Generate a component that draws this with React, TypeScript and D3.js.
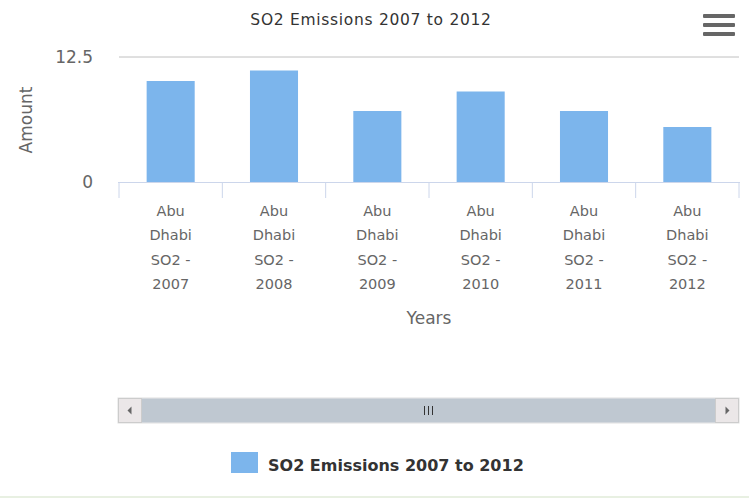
import React from 'react';
import * as d3 from 'd3';

const categories = [
  ['Abu', 'Dhabi', 'SO2 -', '2007'],
  ['Abu', 'Dhabi', 'SO2 -', '2008'],
  ['Abu', 'Dhabi', 'SO2 -', '2009'],
  ['Abu', 'Dhabi', 'SO2 -', '2010'],
  ['Abu', 'Dhabi', 'SO2 -', '2011'],
  ['Abu', 'Dhabi', 'SO2 -', '2012'],
];
const values = [10.1, 11.15, 7.1, 9.05, 7.1, 5.5];
const yTicks = [0, 12.5];
const seriesName = 'SO2 Emissions 2007 to 2012';
const chartTitle = 'SO2 Emissions 2007 to 2012';

const W = 749;
const H = 498;
const font = '"DejaVu Sans", Verdana, sans-serif';

export default function App() {
  const left = 119;
  const right = 739;
  const top = 57;
  const bottom = 182;

  const x = d3
    .scaleBand<number>()
    .domain(d3.range(categories.length))
    .range([left, right]);
  const y = d3.scaleLinear().domain([0, 12.5]).range([bottom, top]);
  const barW = x.bandwidth() * 0.465;

  // scrollbar geometry
  const sbTop = 398;
  const sbH = 25;
  const sbLeft = 118;
  const sbRight = 739;
  const btnW = 23;

  return (
    <svg
      width={W}
      height={H}
      style={{ position: 'fixed', left: 0, top: 0, background: '#fff' }}
      fontFamily={font}
    >
      <rect x={0} y={0} width={W} height={H} fill="#fff" />

      {/* title */}
      <text x={371} y={25} textAnchor="middle" fontSize={15.5} letterSpacing={0.7} fill="#333">
        {chartTitle}
      </text>

      {/* menu icon */}
      {[16, 25, 34].map((cy) => (
        <rect key={cy} x={703} y={cy - 2} width={32} height={4} rx={1} fill="#666" />
      ))}

      {/* grid line */}
      {yTicks
        .filter((t) => t !== 0)
        .map((t) => (
          <line key={t} x1={left} x2={right} y1={y(t)} y2={y(t)} stroke="#c0c0c0" strokeWidth={1} />
        ))}

      {/* y tick labels */}
      {yTicks.map((t) => (
        <text key={t} x={93} y={y(t) + 6} textAnchor="end" fontSize={17} fill="#666">
          {t}
        </text>
      ))}

      {/* y axis title */}
      <text
        transform={`translate(32,120) rotate(-90)`}
        textAnchor="middle"
        fontSize={17}
        fill="#666"
      >
        Amount
      </text>

      {/* bars */}
      {values.map((v, i) => (
        <rect
          key={i}
          x={(x(i) as number) + (x.bandwidth() - barW) / 2}
          y={y(v)}
          width={barW}
          height={y(0) - y(v)}
          fill="#7cb5ec"
        />
      ))}

      {/* x axis */}
      <line x1={left - 1} x2={right + 1} y1={bottom + 0.5} y2={bottom + 0.5} stroke="#ccd6eb" />
      {d3.range(categories.length + 1).map((i) => {
        const tx = i < categories.length ? (x(i) as number) : right;
        return (
          <line key={i} x1={tx} x2={tx} y1={bottom} y2={bottom + 16} stroke="#ccd6eb" />
        );
      })}
      {categories.map((lines, i) => (
        <text
          key={i}
          x={(x(i) as number) + x.bandwidth() / 2}
          textAnchor="middle"
          fontSize={14.5}
          fill="#666"
        >
          {lines.map((ln, j) => (
            <tspan key={j} x={(x(i) as number) + x.bandwidth() / 2} y={216 + j * 24.3}>
              {ln}
            </tspan>
          ))}
        </text>
      ))}

      {/* x axis title */}
      <text x={429} y={324} textAnchor="middle" fontSize={17} fill="#666">
        Years
      </text>

      {/* scrollbar */}
      <rect x={sbLeft} y={sbTop} width={sbRight - sbLeft} height={sbH} fill="#f2f2f2" stroke="#e0e0e0" />
      <rect x={sbLeft + btnW} y={sbTop + 0.5} width={sbRight - sbLeft - 2 * btnW} height={sbH - 1} fill="#bfc8d1" />
      <rect x={sbLeft + 0.5} y={sbTop + 0.5} width={btnW} height={sbH - 1} fill="#ebe7e8" stroke="#cccccc" />
      <rect x={sbRight - btnW - 0.5} y={sbTop + 0.5} width={btnW} height={sbH - 1} fill="#ebe7e8" stroke="#cccccc" />
      <path
        d={`M${sbLeft + btnW / 2 + 2},${sbTop + sbH / 2 - 4} L${sbLeft + btnW / 2 - 2},${sbTop + sbH / 2} L${sbLeft + btnW / 2 + 2},${sbTop + sbH / 2 + 4} Z`}
        fill="#666"
      />
      <path
        d={`M${sbRight - btnW / 2 - 2},${sbTop + sbH / 2 - 4} L${sbRight - btnW / 2 + 2},${sbTop + sbH / 2} L${sbRight - btnW / 2 - 2},${sbTop + sbH / 2 + 4} Z`}
        fill="#666"
      />
      {[-4, 0, 4].map((dx) => (
        <line
          key={dx}
          x1={428.5 + dx}
          x2={428.5 + dx}
          y1={sbTop + 8}
          y2={sbTop + sbH - 8}
          stroke="#333"
          strokeWidth={1}
        />
      ))}

      {/* legend */}
      <rect x={231} y={452} width={27} height={21} fill="#7cb5ec" />
      <text x={268} y={471} fontSize={16} fontWeight="bold" fill="#333">
        {seriesName}
      </text>

      {/* bottom border */}
      <rect x={0} y={496} width={W} height={2} fill="#e8f0e2" />
    </svg>
  );
}
